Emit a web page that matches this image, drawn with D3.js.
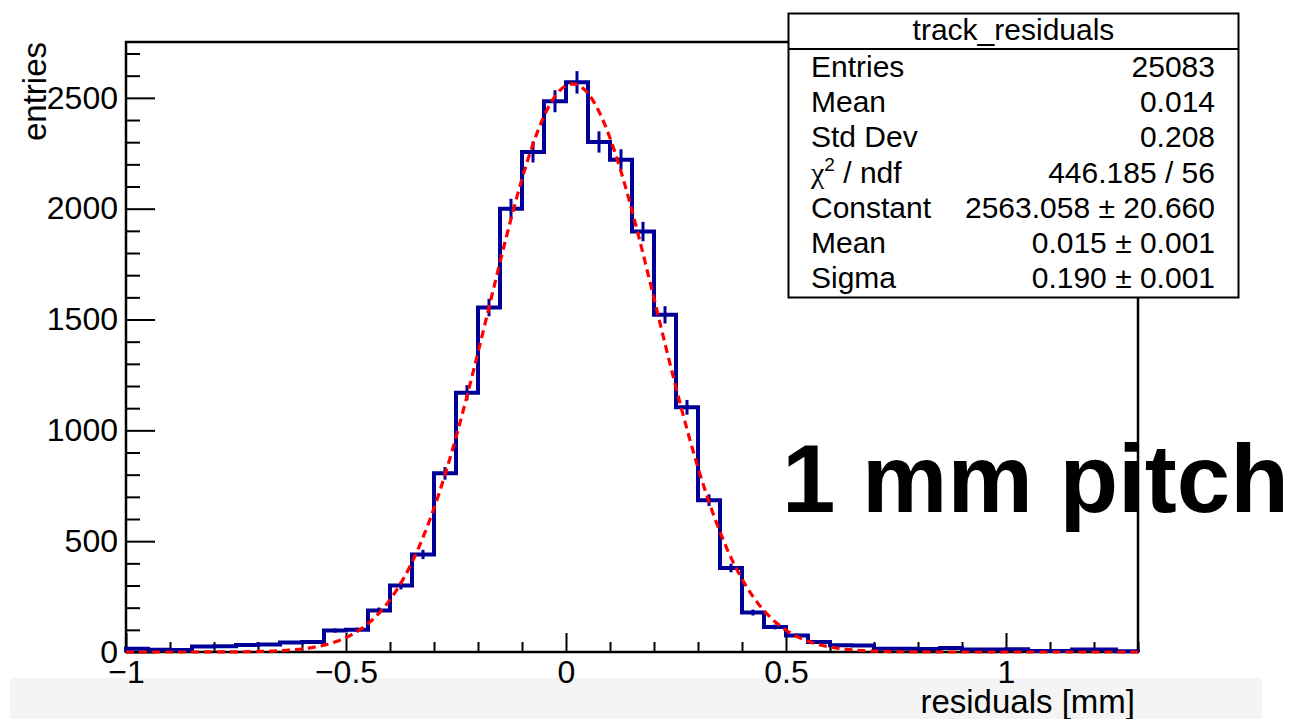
<!DOCTYPE html>
<html>
<head>
<meta charset="utf-8">
<script src="https://cdn.jsdelivr.net/npm/d3@7"></script>
<style>
  body { margin: 0; background: #fff; }
  text { font-family: "Liberation Sans", Arial, Helvetica, sans-serif; fill: #000; }
</style>
</head>
<body>
<svg width="1294" height="719"></svg>
<script>
// histogram range and bin contents (50 um bins)
const histRange = [-1, 1.3];
const binWidth = 0.05;
const counts = [
  15, 10, 9, 25, 26, 32, 34, 43, 45, 97,
  100, 187, 300, 440, 806, 1170, 1554, 2000, 2256, 2485,
  2570, 2301, 2221, 1897, 1521, 1104, 685, 379, 178, 113,
  75, 45, 30, 29, 15, 15, 14, 18, 11, 11,
  12, 5, 5, 11, 11, 3
];

// gaussian fit result
const fitConstant = 2563.058;
const fitMean = 0.015;
const fitSigma = 0.190;

const xMajor = [-1, -0.5, 0, 0.5, 1];
const yMajor = [0, 500, 1000, 1500, 2000, 2500];
const yMax = 2752;

const statsTitle = "track_residuals";
const statsLabels = ["Entries", "Mean", "Std Dev", "χ2 / ndf", "Constant", "Mean", "Sigma"];
const statsValues = ["25083", "0.014", "0.208", "446.185 / 56", "2563.058 ± 20.660", "0.015 ± 0.001", "0.190 ± 0.001"];

const width = 1294;
const height = 719;
const frame = {left: 126, right: 1138, top: 42, bottom: 652};
const blue = "#000099";
const red = "#ff0000";

const svg = d3.select("svg");

const x = d3.scaleLinear().domain(histRange).range([frame.left, frame.right]);
const y = d3.scaleLinear().domain([0, yMax]).range([frame.bottom, frame.top]);

// grey strip under the axis title
svg.append("rect")
    .attr("x", 10).attr("y", 678)
    .attr("width", 1252).attr("height", 41)
    .attr("fill", "#f4f4f4");

// axes, ticks pointing inwards like ROOT
const fmt = d => d < 0 ? "\u2212" + Math.abs(d) : String(d);

const yMinor = d3.range(0, yMax, 100).filter(v => v % 500 !== 0);
const xMinor = d3.range(-10, 14).map(v => v / 10).filter(v => Math.abs(v * 2 - Math.round(v * 2)) > 1e-6);

svg.append("g")
    .attr("transform", `translate(${frame.left},0)`)
    .call(d3.axisLeft(y).tickValues(yMajor).tickSize(-29).tickPadding(8).tickFormat(fmt));
svg.append("g")
    .attr("transform", `translate(${frame.left},0)`)
    .call(d3.axisLeft(y).tickValues(yMinor).tickSize(-14).tickFormat(""));

svg.append("g")
    .attr("transform", `translate(0,${frame.bottom})`)
    .call(d3.axisBottom(x).tickValues(xMajor).tickSize(-19).tickPadding(8).tickFormat(fmt));
svg.append("g")
    .attr("transform", `translate(0,${frame.bottom})`)
    .call(d3.axisBottom(x).tickValues(xMinor).tickSize(-10).tickFormat(""));

svg.selectAll(".domain").remove();
svg.selectAll(".tick line").attr("stroke", "#000").attr("stroke-width", 2);
svg.selectAll(".tick text").attr("font-size", 32).attr("fill", "#000")
    .style("font-family", "\"Liberation Sans\", Arial, sans-serif");

// frame
svg.append("rect")
    .attr("x", frame.left).attr("y", frame.top)
    .attr("width", frame.right - frame.left)
    .attr("height", frame.bottom - frame.top)
    .attr("fill", "none")
    .attr("stroke", "#000")
    .attr("stroke-width", 2.5);

// axis titles
svg.append("text")
    .attr("transform", "translate(46,42) rotate(-90)")
    .attr("text-anchor", "end")
    .attr("font-size", 33)
    .text("entries");

svg.append("text")
    .attr("x", 1135).attr("y", 713)
    .attr("text-anchor", "end")
    .attr("font-size", 33)
    .text("residuals [mm]");

// histogram outline
const bins = counts.map((c, i) => ({
    lo: histRange[0] + i * binWidth,
    hi: histRange[0] + (i + 1) * binWidth,
    n: c
}));

const stepPts = [[bins[0].lo, 0]];
bins.forEach(b => { stepPts.push([b.lo, b.n]); stepPts.push([b.hi, b.n]); });
stepPts.push([bins[bins.length - 1].hi, 0]);

const line = d3.line().x(d => x(d[0])).y(d => y(d[1]));

svg.append("path")
    .attr("d", line(stepPts))
    .attr("fill", "none")
    .attr("stroke", blue)
    .attr("stroke-width", 4)
    .attr("stroke-linejoin", "miter");

// error bars
svg.selectAll("line.err")
    .data(bins)
    .enter()
    .append("line")
    .attr("class", "err")
    .attr("x1", d => x((d.lo + d.hi) / 2))
    .attr("x2", d => x((d.lo + d.hi) / 2))
    .attr("y1", d => y(d.n - Math.sqrt(d.n)))
    .attr("y2", d => y(d.n + Math.sqrt(d.n)))
    .attr("stroke", blue)
    .attr("stroke-width", 3);

// gaussian fit
const gaus = v => fitConstant * Math.exp(-0.5 * Math.pow((v - fitMean) / fitSigma, 2));
const fitPts = d3.range(histRange[0], histRange[1] + 1e-9, 0.005).map(v => [v, gaus(v)]);

svg.append("path")
    .attr("d", line(fitPts))
    .attr("fill", "none")
    .attr("stroke", red)
    .attr("stroke-width", 3.2)
    .attr("stroke-dasharray", "8,5");

// stats box
const box = {x: 788.5, y: 13.5, w: 450, h: 284};
const stats = svg.append("g");
stats.append("rect")
    .attr("x", box.x).attr("y", box.y)
    .attr("width", box.w).attr("height", box.h)
    .attr("fill", "#fff")
    .attr("stroke", "#000")
    .attr("stroke-width", 2);
stats.append("line")
    .attr("x1", box.x).attr("x2", box.x + box.w)
    .attr("y1", 49).attr("y2", 49)
    .attr("stroke", "#000")
    .attr("stroke-width", 2);
stats.append("text")
    .attr("x", box.x + box.w / 2).attr("y", 40)
    .attr("text-anchor", "middle")
    .attr("font-size", 30)
    .text(statsTitle);

const rowY = d3.scaleLinear().domain([0, statsLabels.length - 1]).range([77, 288]);

statsLabels.forEach((lab, i) => {
    const t = stats.append("text")
        .attr("x", 811).attr("y", rowY(i))
        .attr("font-size", 30);
    if (lab.startsWith("χ2")) {
        t.append("tspan").style("font-family", "\"Liberation Serif\", serif").text("χ");
        t.append("tspan").attr("font-size", 19).attr("dy", -12).text("2");
        t.append("tspan").attr("dy", 12).text(" / ndf");
    } else {
        t.text(lab);
    }
    stats.append("text")
        .attr("x", 1215).attr("y", rowY(i))
        .attr("text-anchor", "end")
        .attr("font-size", 30)
        .text(statsValues[i].replace(" ± ", "\u2009\u00b1\u2009".replace(/\u2009/g, "  ")));
});

// label
svg.append("text")
    .attr("x", 782).attr("y", 512)
    .attr("font-size", 96)
    .attr("font-weight", "bold")
    .text("1 mm pitch");
</script>
</body>
</html>
